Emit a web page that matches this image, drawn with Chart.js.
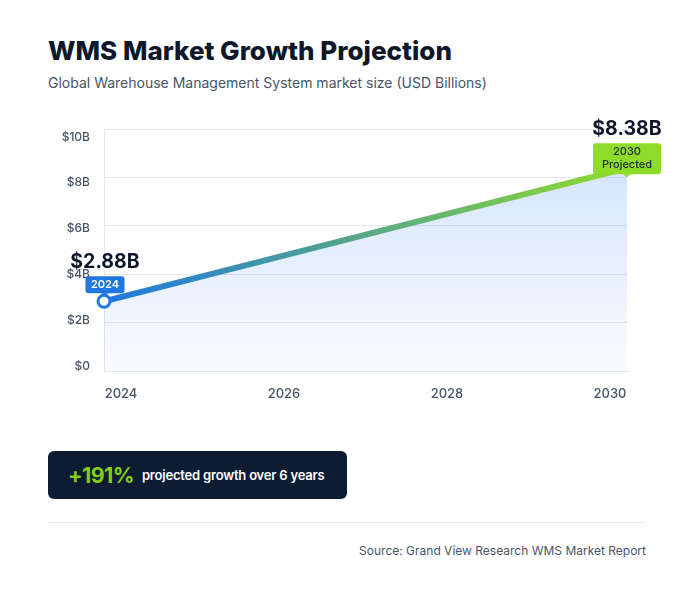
<!DOCTYPE html>
<html>
<head>
<meta charset="utf-8">
<script src="https://cdn.jsdelivr.net/npm/chart.js@4.4.1/dist/chart.umd.min.js"></script>
<style>
  body { margin: 0; background: #fff; font-family: Inter, 'Open Sans', sans-serif; width: 691px; height: 593px; position: relative; overflow: hidden; }
  h1 { position: absolute; left: 48px; top: 35px; margin: 0; font-size: 26px; font-weight: 800; color: #0f172a; letter-spacing: 0; }
  .sub { position: absolute; left: 48px; top: 74px; font-size: 14px; color: #475569; }
  #wrap { position: absolute; left: 0; top: 100px; width: 691px; height: 320px; }
  .box { position: absolute; left: 48px; top: 451px; width: 299px; height: 48px; background: #0d1b33; border-radius: 6px; display: flex; align-items: center; }
  .pct { margin-left: 20px; font-size: 21.5px; font-weight: 700; color: #84cc16; letter-spacing: -0.6px; }
  .txt { margin-left: 8px; font-size: 13px; font-weight: 600; color: #fff; letter-spacing: -0.2px; }
  .rule { position: absolute; left: 48px; top: 522px; width: 598px; height: 1px; background: #e2e8f0; }
  .src { position: absolute; right: 45px; top: 543px; font-size: 12px; color: #475569; }
</style>
</head>
<body>
<h1>WMS Market Growth Projection</h1>
<div class="sub">Global Warehouse Management System market size (USD Billions)</div>
<div id="wrap"><canvas id="myChart"></canvas></div>
<div class="box"><span class="pct">+191%</span><span class="txt">projected growth over 6 years</span></div>
<div class="rule"></div>
<div class="src">Source: Grand View Research WMS Market Report</div>
<script>
'use strict';
// data
let years = [2024, 2030];
let values = [2.88, 8.38];
let valueLabels = ['$2.88B', '$8.38B'];
let badgeLabels = [['2024'], ['2030', 'Projected']];
let badgeColors = ['#1f77e0', '#8fdb2c'];
let badgeText = ['#ffffff', '#1e293b'];

let points = [];
for (let i = 0; i < years.length; i++) {
    points.push({ x: years[i], y: values[i] });
}

function lineGrad(ctx) {
    let area = ctx.chart.chartArea;
    if (!area) return '#1f77e0';
    let g = ctx.chart.ctx.createLinearGradient(area.left, 0, area.right, 0);
    g.addColorStop(0, '#1f77e0');
    g.addColorStop(1, '#8fdb2c');
    return g;
}

function fillGrad(ctx) {
    let area = ctx.chart.chartArea;
    if (!area) return 'rgba(59,130,246,0.1)';
    let g = ctx.chart.ctx.createLinearGradient(0, area.top, 0, area.bottom);
    g.addColorStop(0, 'rgba(59,130,246,0.24)');
    g.addColorStop(1, 'rgba(59,130,246,0.03)');
    return g;
}

function roundRect(c, x, y, w, h, r) {
    c.beginPath();
    c.moveTo(x + r, y);
    c.arcTo(x + w, y, x + w, y + h, r);
    c.arcTo(x + w, y + h, x, y + h, r);
    c.arcTo(x, y + h, x, y, r);
    c.arcTo(x, y, x + w, y, r);
    c.closePath();
}

// badges + value labels over the two points
let badgePlugin = {
    id: 'badges',
    afterDatasetsDraw(chart) {
        let c = chart.ctx;
        let meta = chart.getDatasetMeta(0);
        c.save();
        for (let i = 0; i < meta.data.length; i++) {
            let p = meta.data[i];
            let lines = badgeLabels[i];
            let w = i === 0 ? 39 : 68;
            let h = lines.length === 1 ? 17 : 31;
            let bottom = i === 0 ? p.y - 8 : p.y + 6;
            let cx = i === 0 ? p.x + 1 : p.x;
            c.fillStyle = badgeColors[i];
            roundRect(c, cx - w / 2, bottom - h, w, h, 3);
            c.fill();
            // small caret
            c.beginPath();
            c.moveTo(cx - 4, bottom);
            c.lineTo(cx + 4, bottom);
            c.lineTo(cx, bottom + 3);
            c.closePath();
            c.fill();
            c.fillStyle = badgeText[i];
            c.textAlign = 'center';
            c.textBaseline = 'middle';
            c.font = (i === 0 ? '600 ' : '500 ') + '11px Inter, sans-serif';
            for (let j = 0; j < lines.length; j++) {
                c.fillText(lines[j], cx, bottom - h + 8.5 + j * 13);
            }
            c.fillStyle = '#0f172a';
            c.font = 'bold 19.5px Inter, sans-serif';
            c.fillText(valueLabels[i], cx, p.y - 39);
        }
        c.restore();
    }
};

let ctx = document.getElementById('myChart').getContext('2d');
let myChart = new Chart(ctx, {
    type: 'line',
    data: {
        datasets: [{
            data: points,
            borderColor: lineGrad,
            borderWidth: 6,
            fill: 'start',
            backgroundColor: fillGrad,
            tension: 0,
            pointRadius: [6, 0],
            pointBorderWidth: 3,
            pointBackgroundColor: '#ffffff',
            pointBorderColor: '#1f77e0',
            clip: false
        }]
    },
    plugins: [badgePlugin],
    options: {
        responsive: true,
        maintainAspectRatio: false,
        animation: false,
        layout: { padding: { left: 44, top: 29, right: 64, bottom: 9 } },
        plugins: { legend: { display: false }, tooltip: { enabled: false } },
        scales: {
            x: {
                type: 'linear', min: 2024, max: 2030, weight: 0,
                grid: { display: false, drawTicks: false },
                border: { display: true, color: '#e2e8f0', width: 1 },
                ticks: { display: false },
                afterFit: (s) => { s.height = 0; }
            },
            xl: {
                type: 'linear', position: 'bottom', min: 2023.791, max: 2030.209, weight: 1,
                grid: { display: false, drawTicks: false },
                border: { display: false },
                ticks: {
                    stepSize: 2, includeBounds: false, padding: 15, maxRotation: 0,
                    color: '#475569', font: { family: 'Inter', size: 13, weight: 500 },
                    callback: (v) => String(Math.round(v))
                },
                afterFit: (s) => { s.height = 40; }
            },
            y: {
                type: 'linear', min: 0, max: 10, weight: 0,
                grid: { color: '#e2e8f0', drawTicks: false },
                border: { display: true, color: '#e2e8f0', width: 1 },
                ticks: { display: false, stepSize: 2 },
                afterFit: (s) => { s.width = 0; }
            },
            yl: {
                type: 'linear', position: 'left', min: -0.218, max: 10.349, weight: 1,
                grid: { display: false, drawTicks: false },
                border: { display: false },
                ticks: {
                    stepSize: 2, includeBounds: false, padding: 14,
                    color: '#475569', font: { family: 'Inter', size: 12, weight: 500 },
                    callback: (v) => { let n = Math.round(v); return n === 0 ? '$0' : '$' + n + 'B'; }
                },
                afterFit: (s) => { s.width = 60; }
            }
        }
    }
});
</script>
</body>
</html>
